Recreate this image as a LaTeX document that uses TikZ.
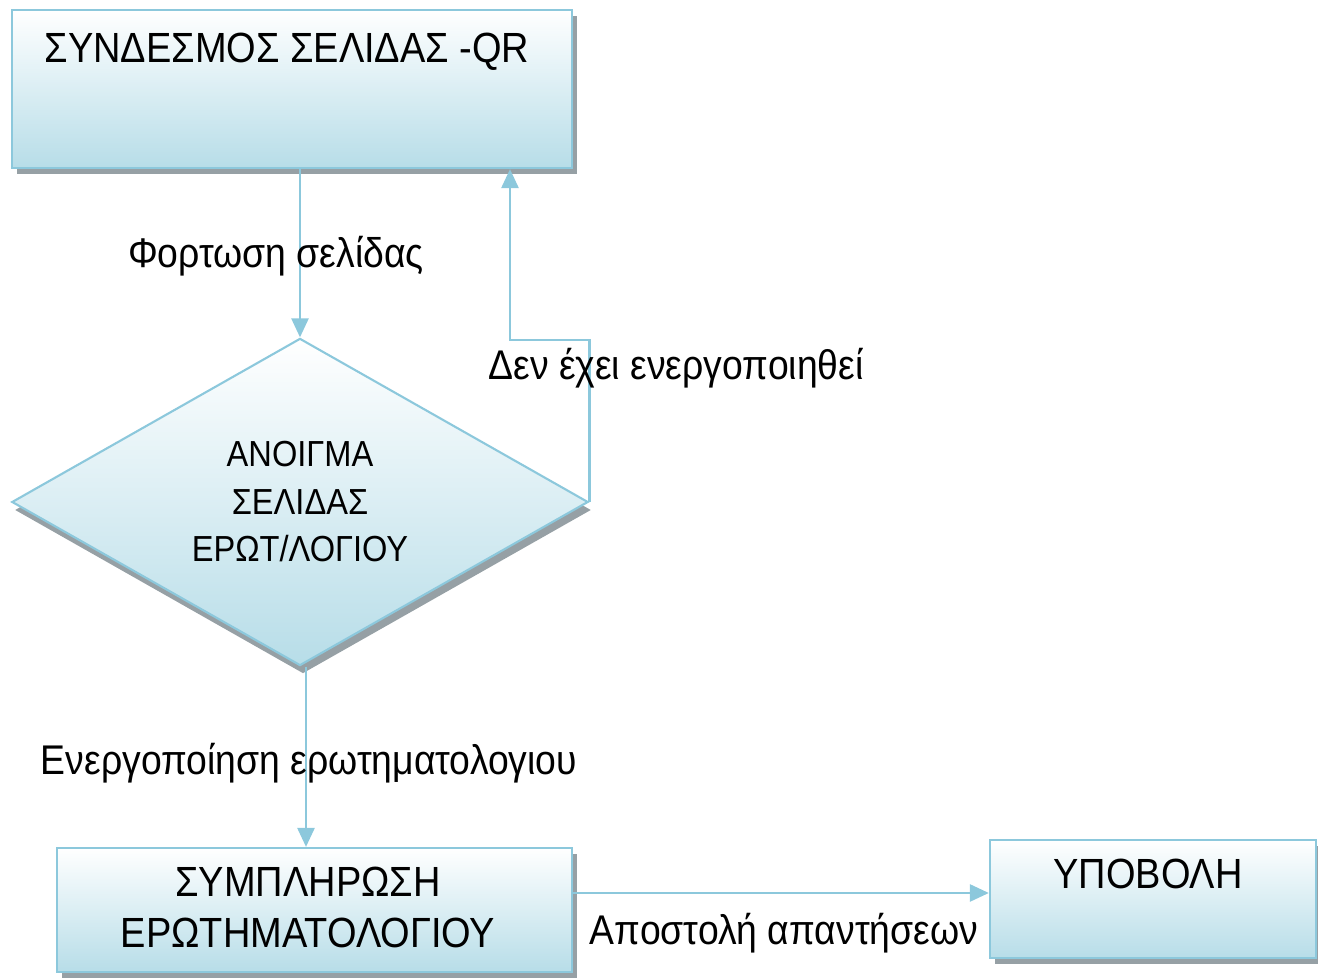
\documentclass[tikz,border=0pt]{standalone}
\usepackage{fontspec}
\setmainfont{Liberation Sans}[FakeStretch=0.9]
\usetikzlibrary{shapes.geometric,arrows.meta,shadows}
\definecolor{edgeblue}{RGB}{140,200,220}
\definecolor{fillblue}{RGB}{183,221,232}
\definecolor{shadowgray}{RGB}{150,160,165}
\begin{document}
\begin{tikzpicture}[x=0.01cm,y=-0.01cm,
  box/.style={rectangle, draw=edgeblue, line width=0.6pt, top color=white, bottom color=fillblue, inner sep=0pt,
    drop shadow={shadow xshift=0.05cm, shadow yshift=-0.06cm, fill=shadowgray, opacity=1}},
  decision/.style={diamond, aspect=1.76, draw=edgeblue, line width=0.6pt, top color=white, bottom color=fillblue, inner sep=0pt,
    align=center, font=\fontsize{10.3}{13.5}\selectfont,
    drop shadow={shadow xshift=0.03cm, shadow yshift=-0.08cm, fill=shadowgray, opacity=1}},
  txt/.style={font=\fontsize{12}{14.5}\selectfont, inner sep=0pt, align=center},
  lbl/.style={font=\fontsize{11.8}{14}\selectfont, inner sep=0pt},
  arr/.style={draw=edgeblue, line width=0.75pt, -{Triangle[length=0.19cm,width=0.17cm]}}]
\useasboundingbox (0,0) rectangle (1318,980);

% boxes
\node[box, minimum width=5.60cm, minimum height=1.58cm] (top) at (292,89) {};
\node[txt, anchor=base] (toptxt) at (287,63) {ΣΥΝΔΕΣΜΟΣ ΣΕΛΙΔΑΣ -QR};

\node[decision, minimum width=5.76cm, minimum height=3.27cm] (dia) at (300,502) {ΑΝΟΙΓΜΑ\\ΣΕΛΙΔΑΣ\\ΕΡΩΤ/ΛΟΓΙΟΥ};

\node[box, minimum width=5.15cm, minimum height=1.24cm] (fill) at (314.5,910) {};
\node[txt] (filltxt) at (308,907) {ΣΥΜΠΛΗΡΩΣΗ\\ΕΡΩΤΗΜΑΤΟΛΟΓΙΟΥ};

\node[box, minimum width=3.26cm, minimum height=1.18cm] (sub) at (1153,899) {};
\node[txt, anchor=base] (subtxt) at (1148,889) {ΥΠΟΒΟΛΗ};

% connectors
\coordinate (c1) at (510,340);
\coordinate (c2) at (572,893);
\coordinate (c3) at (306,665);
\draw[arr] (dia.north |- top.south) -- (dia.north);
\draw[arr] (dia.east) |- (c1) -- (c1 |- top.south);
\draw[arr] (c3 |- dia.south) -- (c3 |- fill.north);
\draw[arr] (c2 -| fill.east) -- (c2 -| sub.west);

% labels
\node[lbl] (l1) at (276,256) {Φορτωση σελίδας};
\node[lbl] (l2) at (676,368) {Δεν έχει ενεργοποιηθεί};
\node[lbl] (l3) at (309,763) {Ενεργοποίηση ερωτηματολογιου};
\node[lbl] (l4) at (784,933) {Αποστολή απαντήσεων};
\end{tikzpicture}
\end{document}
